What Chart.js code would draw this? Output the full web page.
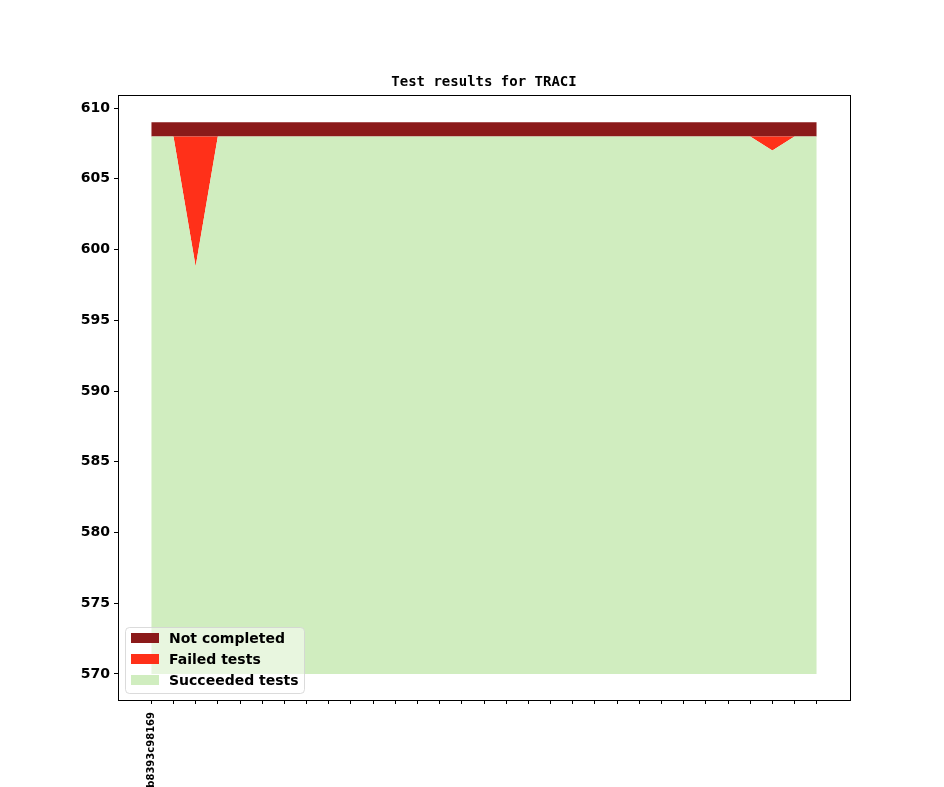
<!DOCTYPE html>
<html>
<head>
<meta charset="utf-8">
<script src="https://cdn.jsdelivr.net/npm/chart.js@4"></script>
<style>
  body { margin: 0; background: #fff; }
  canvas { display: block; }
</style>
</head>
<body>
<canvas id="chart" width="944" height="787"></canvas>
<script>
// Datos del gráfico
const commits = ['b8393c98169', '', '', '', '', '', '', '', '', '', '',
                 '', '', '', '', '', '', '', '', '', '',
                 '', '', '', '', '', '', '', '', '', ''];
const succeeded = [608, 608, 598.8, 608, 608, 608, 608, 608, 608, 608, 608,
                   608, 608, 608, 608, 608, 608, 608, 608, 608, 608,
                   608, 608, 608, 608, 608, 608, 608, 607, 608, 608];
const failed = [0, 0, 9.2, 0, 0, 0, 0, 0, 0, 0, 0,
                0, 0, 0, 0, 0, 0, 0, 0, 0, 0,
                0, 0, 0, 0, 0, 0, 0, 1, 0, 0];
const notCompleted = [1, 1, 1, 1, 1, 1, 1, 1, 1, 1, 1,
                      1, 1, 1, 1, 1, 1, 1, 1, 1, 1,
                      1, 1, 1, 1, 1, 1, 1, 1, 1, 1];
const yTicks = [570, 575, 580, 585, 590, 595, 600, 605, 610];
const baseline = 570;

const colors = {
    notCompleted: '#8b1a1a',
    failed: '#ff3019',
    succeeded: '#d0edbf'
};

const toPoints = (arr) => arr.map((v, i) => ({ x: i, y: v }));

// Marco de los ejes y leyenda dentro del área (estilo matplotlib)
const framePlugin = {
    id: 'frame',
    afterDraw(chart) {
        const { ctx, chartArea: a } = chart;
        ctx.save();
        ctx.strokeStyle = '#000';
        ctx.lineWidth = 1;
        ctx.strokeRect(Math.round(a.left) + 0.5, Math.round(a.top) + 0.5,
                       Math.round(a.right - a.left), Math.round(a.bottom - a.top));

        // leyenda
        const items = chart.data.datasets.slice().reverse();
        const bx = 125, by = 627, bw = 179, bh = 66;
        ctx.beginPath();
        ctx.roundRect(bx + 0.5, by + 0.5, bw, bh, 4);
        ctx.fillStyle = 'rgba(255,255,255,0.5)';
        ctx.fill();
        ctx.strokeStyle = 'rgba(210,210,210,0.8)';
        ctx.stroke();
        ctx.font = 'bold 14px "DejaVu Sans"';
        ctx.textBaseline = 'middle';
        items.forEach((ds, i) => {
            const cy = 638 + i * 21;
            ctx.fillStyle = ds.backgroundColor;
            ctx.fillRect(131, cy - 5, 28, 10);
            ctx.fillStyle = '#000';
            ctx.fillText(ds.label, 169, cy + 1);
        });
        ctx.restore();
    }
};

new Chart(document.getElementById('chart'), {
    type: 'line',
    data: {
        datasets: [
            {
                label: 'Succeeded tests',
                data: toPoints(succeeded),
                backgroundColor: colors.succeeded,
                borderWidth: 0,
                pointRadius: 0,
                fill: { value: baseline },
                tension: 0
            },
            {
                label: 'Failed tests',
                data: toPoints(failed),
                backgroundColor: colors.failed,
                borderWidth: 0,
                pointRadius: 0,
                fill: '-1',
                tension: 0
            },
            {
                label: 'Not completed',
                data: toPoints(notCompleted),
                backgroundColor: colors.notCompleted,
                borderWidth: 0,
                pointRadius: 0,
                fill: '-1',
                tension: 0
            }
        ]
    },
    options: {
        responsive: false,
        animation: false,
        devicePixelRatio: 1,
        layout: { padding: { left: 0, right: 94, top: 0, bottom: 0 } },
        plugins: {
            legend: { display: false },
            tooltip: { enabled: false },
            title: {
                display: true,
                fullSize: false,
                text: 'Test results for TRACI',
                color: '#000',
                font: { family: '"DejaVu Sans Mono"', size: 14, weight: 'bold' },
                padding: { top: 74, bottom: 4 }
            }
        },
        scales: {
            x: {
                type: 'linear',
                min: -1.5,
                max: commits.length - 1 + 1.5,
                border: { display: false },
                grid: { display: true, drawOnChartArea: false, color: '#000', tickLength: 4 },
                afterBuildTicks: (scale) => {
                    scale.ticks = commits.map((_, i) => ({ value: i }));
                },
                afterFit: (scale) => { scale.height = 87; },
                ticks: {
                    autoSkip: false,
                    minRotation: 90,
                    maxRotation: 90,
                    padding: 8,
                    color: '#000',
                    font: { family: '"DejaVu Sans"', size: 10, weight: 'bold' },
                    callback: (value) => commits[value] || ''
                }
            },
            y: {
                stacked: true,
                min: 568.16,
                max: 610.94,
                border: { display: false },
                grid: { display: true, drawOnChartArea: false, color: '#000', tickLength: 4 },
                afterBuildTicks: (scale) => {
                    scale.ticks = yTicks.map(v => ({ value: v }));
                },
                afterFit: (scale) => { scale.width = 118; },
                ticks: {
                    padding: 4,
                    color: '#000',
                    font: { family: '"DejaVu Sans"', size: 14, weight: 'bold' }
                }
            }
        }
    },
    plugins: [framePlugin]
});
</script>
</body>
</html>
